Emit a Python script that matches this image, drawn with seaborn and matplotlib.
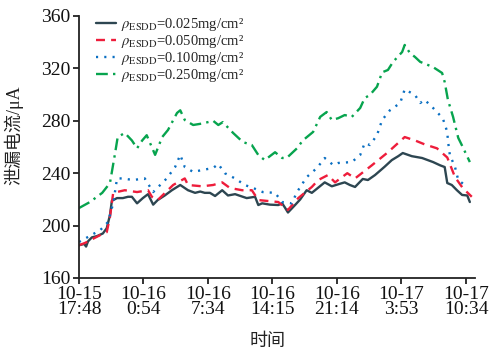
import matplotlib
matplotlib.use("Agg")
import matplotlib.pyplot as plt
import seaborn as sns
import numpy as np

# ---- data (x in tick-index units: 0 = 10-15 17:48, 1 = 10-16 0:54, ...) ----
tick_labels = ["10-15\n17:48", "10-16\n0:54", "10-16\n7:34", "10-16\n14:15",
               "10-16\n21:14", "10-17\n3:53", "10-17\n10:34"]
series_names = [r"$\rho_{\mathrm{ESDD}}$=0.025mg/cm²",
                r"$\rho_{\mathrm{ESDD}}$=0.050mg/cm²",
                r"$\rho_{\mathrm{ESDD}}$=0.100mg/cm²",
                r"$\rho_{\mathrm{ESDD}}$=0.250mg/cm²"]

x_025 = [0.0, 0.08, 0.11, 0.14, 0.20, 0.28, 0.37, 0.43, 0.48, 0.51, 0.59, 0.68, 0.76, 0.82,
         0.90, 0.99, 1.07, 1.12, 1.15, 1.22, 1.33, 1.44, 1.57, 1.63, 1.69, 1.80, 1.88, 1.95,
         2.03, 2.11, 2.22, 2.31, 2.42, 2.54, 2.60, 2.73, 2.78, 2.84, 2.96, 3.09, 3.15, 3.19,
         3.24, 3.35, 3.43, 3.53, 3.61, 3.71, 3.81, 3.92, 4.05, 4.12, 4.20, 4.28, 4.40, 4.48,
         4.59, 4.67, 4.74, 4.85, 4.95, 5.02, 5.16, 5.32, 5.49, 5.60, 5.67, 5.71, 5.78, 5.86,
         5.94, 6.02, 6.06]
y_025 = [185, 186, 184, 188, 191, 192, 194, 198, 208, 219, 221, 221, 222, 222,
         217, 221, 224, 219, 216, 219.5, 223, 227, 231, 229, 227, 225, 226, 225,
         225, 222.6, 227, 223, 224, 222, 221, 222, 215.7, 217, 216, 215.7, 217, 214,
         210, 215.7, 220, 227, 225, 229, 233, 230, 232, 233, 231, 229.5, 235.6, 234.8,
         238.6, 242, 245, 250, 253, 255.4, 253, 251.6, 248.5, 246, 244.7, 232.5, 231, 227,
         223.4, 223, 218]

x_050 = [0.0, 0.09, 0.33, 0.43, 0.48, 0.53, 0.71, 0.90, 1.07, 1.13, 1.22, 1.46, 1.64, 1.69,
         1.91, 2.08, 2.22, 2.34, 2.53, 2.68, 2.78, 3.09, 3.24, 3.40, 3.61, 3.71, 3.86, 3.97,
         4.16, 4.28, 4.54, 4.79, 5.05, 5.21, 5.36, 5.55, 5.71, 5.83, 5.95, 6.09]
y_050 = [185, 186.7, 192.8, 195, 206.5, 225, 227, 225.6, 227, 222, 219.5, 231, 236, 231,
         230, 231, 233, 228.7, 227, 227, 219.5, 218, 212, 221, 229.5, 234.8, 238.6, 233,
         240, 236, 246, 256, 267.6, 265, 262, 259, 252, 237, 228.7, 222]

x_100 = [0.0, 0.20, 0.33, 0.45, 0.53, 0.59, 0.67, 0.84, 1.02, 1.15, 1.36, 1.49, 1.57, 1.64,
         1.77, 1.91, 2.08, 2.16, 2.26, 2.42, 2.57, 2.70, 2.85, 3.04, 3.15, 3.30, 3.38, 3.53,
         3.69, 3.81, 3.94, 4.02, 4.23, 4.36, 4.43, 4.51, 4.62, 4.70, 4.82, 4.98, 5.05, 5.21,
         5.29, 5.36, 5.49, 5.64, 5.71, 5.72, 5.75, 5.83, 5.88, 6.02]
y_100 = [187.5, 193, 196.6, 202.7, 217, 236, 236, 234.8, 236, 225.6, 236, 244.7, 254, 244.7,
         241, 242.4, 244, 247, 240, 236, 231, 228.7, 225.6, 225, 218, 217, 225.6, 237,
         244, 251.6, 246.3, 247.8, 248.5, 253.9, 263, 261.5, 269, 280.6, 288, 293.6, 304, 299.7,
         293.6, 296, 289.8, 282, 271.5, 265, 253.9, 244.7, 234.8, 229.5]

x_250 = [0.0, 0.17, 0.36, 0.48, 0.56, 0.60, 0.71, 0.82, 0.90, 0.98, 1.05, 1.18, 1.29, 1.38,
         1.52, 1.57, 1.64, 1.77, 1.92, 2.08, 2.16, 2.23, 2.39, 2.54, 2.68, 2.78, 2.88, 3.04,
         3.15, 3.22, 3.38, 3.47, 3.63, 3.74, 3.84, 3.92, 4.02, 4.12, 4.23, 4.36, 4.43, 4.51,
         4.62, 4.70, 4.79, 4.87, 5.01, 5.05, 5.13, 5.21, 5.29, 5.41, 5.49, 5.63, 5.67, 5.72,
         5.80, 5.88, 5.95, 6.06]
y_250 = [213.4, 218, 225, 232.5, 255.4, 267.6, 270.7, 265, 259, 265, 269, 254, 267.6, 273,
         286, 288, 280.6, 276.8, 278, 280, 276.8, 279, 270.7, 263.8, 261.5, 253.9, 250, 256,
         251.6, 251.6, 259, 265, 271.5, 283, 286.7, 280.6, 282, 284.4, 283, 289.8, 297.4, 299.7,
         306, 317, 318.8, 325, 332.5, 337.9, 331.8, 328.7, 325, 322.6, 321, 316.5, 309.6, 296,
         283, 267, 260, 248.5]

y_ticks = [160, 200, 240, 280, 320, 360]

# ---- style ----
sns.set_theme(style="ticks")
plt.rcParams['font.family'] = ['Liberation Serif', 'Noto Sans CJK SC']
plt.rcParams['mathtext.fontset'] = 'stix'

fig = plt.figure(figsize=(4.94, 3.54), dpi=100)
ax = fig.add_axes([79/494, 76/354, 396/494, 262/354])

colors = ["#2d4651", "#ee1d3b", "#0a6fc2", "#07a44e"]
styles = ["-", (0, (3.8, 2.6)), (0, (0.9, 2.6)), (0, (5.0, 2.2, 1.0, 2.2))]
xs = [x_025, x_050, x_100, x_250]
ys = [y_025, y_050, y_100, y_250]
for xv, yv, c, ls, name in zip(xs, ys, colors, styles, series_names):
    sns.lineplot(x=xv, y=yv, ax=ax, color=c, linestyle=ls, linewidth=1.7,
                 sort=False, estimator=None, label=name)

ax.set_xlim(0, 6.14)
ax.set_ylim(160, 360)
ax.set_xticks(range(len(tick_labels)))
ax.set_xticklabels(tick_labels, linespacing=0.85)
ax.set_yticks(y_ticks)
ax.tick_params(axis='both', labelsize=14, direction='out', length=4, width=1.3,
               color='#222222', labelcolor='#111111', pad=2)
for s in ['top', 'right']:
    ax.spines[s].set_visible(False)
for s in ['left', 'bottom']:
    ax.spines[s].set_linewidth(1.3)
    ax.spines[s].set_color('#222222')

ax.set_ylabel("泄漏电流/μA", fontsize=13, color='#222222')
ax.yaxis.set_label_coords(-0.141, 0.546)
ax.set_xlabel("时间", fontsize=13, color='#222222')
ax.xaxis.set_label_coords(0.475, -0.21)

leg = ax.legend(loc='upper left', bbox_to_anchor=(0.02, 1.035), frameon=False,
                fontsize=10.5, handlelength=1.35, handletextpad=0.35,
                labelspacing=0.0, borderpad=0.15)

fig.savefig("out.png", dpi=100)
